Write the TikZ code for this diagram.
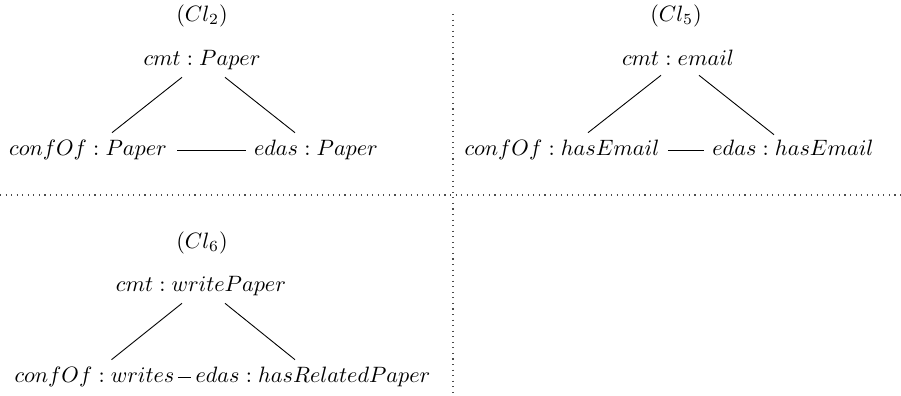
\documentclass[tikz,border=0pt]{standalone}
\usetikzlibrary{calc}
\begin{document}
\begin{tikzpicture}[x=0.45pt,y=-0.45pt,
  lbl/.style={inner sep=0pt,text height=6.94pt,text depth=1.94pt},
  ttl/.style={inner sep=0pt},
  edge/.style={line width=0.4pt},
  sep/.style={dotted,line width=0.5pt,black!70}]
\useasboundingbox (0,0) rectangle (901,396);
% separators
\coordinate (hl) at (0,195);
\coordinate (hr) at (901,195);
\coordinate (vt) at (453,14);
\coordinate (vb) at (453,396);
\draw[sep] (hl) -- (hr);
\draw[sep] (vt) -- (vb);
% panel 1
\node[ttl] (t1) at (202,16) {$(Cl_2)$};
\node[lbl] (c1) at (202,60) {$cmt:Paper$};
\node[lbl] (f1) at (88,150) {$confOf:Paper$};
\node[lbl] (e1) at (316,150) {$edas:Paper$};
\draw[edge] ($(c1.south)+(-20,7)$) -- ($(f1.north)+(24,-7)$);
\draw[edge] ($(c1.south)+(23,7)$) -- ($(e1.north)+(-21,-7)$);
\draw[edge] ($(f1.east)+(10,0)$) -- ($(e1.west)+(-8,0)$);
% panel 2
\node[ttl] (t2) at (676,16) {$(Cl_5)$};
\node[lbl] (c2) at (678,60) {$cmt:email$};
\node[lbl] (f2) at (562,150) {$confOf:hasEmail$};
\node[lbl] (e2) at (793,150) {$edas:hasEmail$};
\draw[edge] ($(c2.south)+(-17,5)$) -- ($(f2.north)+(26,-7)$);
\draw[edge] ($(c2.south)+(21,5)$) -- ($(e2.north)+(-19,-5)$);
\draw[edge] ($(f2.east)+(8,0)$) -- ($(e2.west)+(-8,0)$);
% panel 3
\node[ttl] (t3) at (202,243) {$(Cl_6)$};
\node[lbl] (c3) at (201,286) {$cmt:writePaper$};
\node[lbl] (f3) at (94.5,377) {$confOf:writes$};
\node[lbl] (e3) at (313,377) {$edas:hasRelatedPaper$};
\draw[edge] ($(c3.south)+(-19,7)$) -- ($(f3.north)+(17,-7)$);
\draw[edge] ($(c3.south)+(24,7)$) -- ($(e3.north)+(-18,-7)$);
\draw[edge] ($(f3.east)+(3,0)$) -- ($(e3.west)+(-4,0)$);
\end{tikzpicture}
\end{document}
